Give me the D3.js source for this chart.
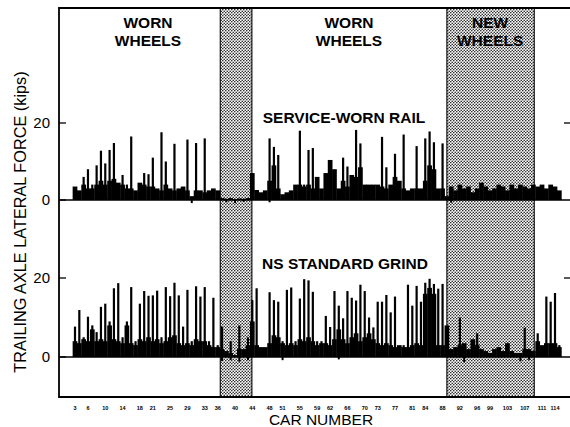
<!DOCTYPE html>
<html>
<head>
<meta charset="utf-8">
<script src="https://cdn.jsdelivr.net/npm/d3@7"></script>
<style>
  body { margin: 0; background: #fff; }
  text { font-family: "Liberation Sans", Arial, sans-serif; }
</style>
</head>
<body>
<div id="chart"></div>
<script>
// car numbers 3..115, one entry per car
const firstCar = 3
const carTicks = [3, 6, 10, 14, 18, 21, 25, 29, 33, 36, 40, 44, 48, 51, 55, 59, 62, 66, 70, 73, 77, 81, 84, 88, 92, 96, 99, 103, 107, 111, 114]

// shaded car ranges
const shadeRanges = [[36.6, 43.9], [89.0, 109.2]]

// service-worn rail: base level and peak per car (kips)
const topBase = [3.5, 2.5, 4, 3, 3, 4, 5, 4, 5, 5.5, 4.5, 4, 3, 3, 2.5, 4.5, 4, 3.5, 3.5, 3, 2.5, 4, 3, 2.5, 3, 3.5, 2.5, 1, 2.5, 2.5, 2, 2.5, 3, 2.5,
  0.5, 0.3, 0.5, 0.2, 0.4, 0.3, 0.5,
  7, 2.6, 2, 2.5, 5, 9, 3, 1.5, 2, 2.5, 4, 4, 3.5, 4, 3, 6, 3, 7, 10.4, 8, 3, 5, 3.5, 6.5, 6, 8.5, 4, 4, 4, 4, 3.5, 3, 4, 6, 5, 3, 2.5, 3, 3, 3, 5, 9, 8, 3, 3,
  1, 3.5, 2.5, 4, 3, 3.5, 2, 3, 4.5, 3.5, 2.5, 3, 4, 3.5, 2.5, 4, 3, 4, 3.5, 3, 4,
  3.5, 4, 3, 4, 3.5, 2.5]
const topPeak = [3.5, 2.5, 6, 8, 4, 9, 12.8, 9.5, 13, 14.8, 4.5, 6.5, 4, 16.5, 2.5, 4.5, 7, 6.7, 11, 3, 17.6, 10, 3, 14.6, 3, 3.5, 15.7, 1, 14.8, 2.5, 16, 2.5, 3, 2.5,
  0.5, 0.3, 0.5, 0.2, 0.4, 0.3, 0.5,
  7, 2.6, 2, 2.5, 16, 13.8, 11.7, 1.5, 2, 2.5, 4, 18, 4, 13, 13.5, 6, 3, 7, 10.4, 8, 3, 11, 8.7, 6.5, 18.2, 14.7, 4, 4, 4, 4, 16.4, 8.5, 4, 12, 5, 17, 2.5, 3, 14, 3, 16, 17.8, 15, 3, 14.7,
  1, 3.5, 2.5, 4, 3, 3.5, 2, 3, 4.5, 3.5, 2.5, 3, 4, 3.5, 2.5, 4, 3, 4, 3.5, 3, 4,
  3.5, 4, 3, 4, 3.5, 2.5]

// NS standard grind
const lowBase = [4, 3.5, 4.5, 4, 7, 4, 4.5, 4, 8, 4.5, 4, 3.5, 8, 3.5, 3, 4.5, 4, 5, 4, 4.5, 3.5, 4, 5, 5.5, 3.5, 3, 3.5, 3, 4.5, 4, 4, 3, 2.5, 2.5,
  2, 1.5, 1, 0.5, 2, 2, 3,
  9, 3, 2.5, 2.5, 3.5, 5.5, 5, 3.5, 3, 3.5, 3, 4.5, 4, 5, 4, 3, 3.5, 3.5, 3, 4.5, 7, 4.5, 3.5, 5, 6, 4, 5, 6, 4.5, 3.5, 3, 3.5, 3, 2.5, 3, 2.5, 2.5, 3, 3.5, 3, 16, 17.5, 16, 3, 3,
  8, 2, 2.5, 3, 3.5, 2, 4.5, 3, 2, 1.5, 1, 2, 2.5, 1.5, 3.5, 1.5, 1, 1, 2, 2, 1.5,
  4, 3, 3.5, 3.5, 3.5, 2.5]
const lowPeak = [7.7, 11.9, 5, 10.2, 8, 6.3, 12.7, 13.5, 9, 17.4, 18.7, 5, 9, 17.7, 4, 13.5, 16.7, 15.5, 15.6, 16.8, 5, 17.7, 15.4, 18.8, 15.6, 7.7, 17, 4, 17.9, 15.3, 17.7, 4, 15, 3,
  7.7, 1.5, 4, 0.5, 8, 2, 5,
  14.4, 17.4, 2.5, 2.5, 16.4, 14.4, 14, 4, 17, 17.6, 4, 14.8, 19.7, 19.4, 16.5, 4, 4, 10.4, 7.6, 16.7, 13, 9.8, 16.7, 15, 14.3, 18.3, 16.7, 10, 7.5, 14, 14, 15.7, 11.3, 15.3, 3, 3, 18.3, 13, 18, 14, 18.8, 19.8, 18.5, 17.3, 18.5,
  8, 2, 2.5, 10, 3.5, 2, 4.5, 6, 2, 1.5, 1, 2, 2.5, 1.5, 3.5, 1.5, 1, 1, 7.4, 2, 1.5,
  6, 3, 15.3, 14, 16.2, 3]

// small negative excursions [car, kips]
const topDips = [[30, -0.8], [38, -0.6], [40, -0.8], [42, -0.5], [48, -0.6], [90, -0.7]]
const lowDips = [[37, -1], [39, -0.8], [41, -1.2], [43, -0.8], [51, -0.8], [64, -0.6], [93, -1.3], [106, -1.1], [108, -0.7]]

const yTicks = [0, 20]

const W = 570, H = 427
const frame = {left: 59, right: 570, top: 8, bottom: 397}

const svg = d3.select('#chart').append('svg')
  .attr('width', W)
  .attr('height', H)

const defs = svg.append('defs')
const pat = defs.append('pattern')
  .attr('id', 'dots')
  .attr('width', 3).attr('height', 3)
  .attr('patternUnits', 'userSpaceOnUse')
pat.append('rect').attr('width', 3).attr('height', 3).attr('fill', '#fff')
pat.append('circle').attr('cx', 0.75).attr('cy', 0.75).attr('r', 0.8).attr('fill', '#222')
pat.append('circle').attr('cx', 2.25).attr('cy', 2.25).attr('r', 0.8).attr('fill', '#222')

const x = d3.scaleLinear().domain([3, 114]).range([75, 555])
const yTop = d3.scaleLinear().domain([0, 20]).range([200, 123])
const yLow = d3.scaleLinear().domain([0, 20]).range([357, 278])

// shaded bands
svg.selectAll('.shade').data(shadeRanges).join('rect')
  .attr('class', 'shade')
  .attr('x', d => x(d[0]))
  .attr('y', frame.top)
  .attr('width', d => x(d[1]) - x(d[0]))
  .attr('height', frame.bottom - frame.top)
  .attr('fill', 'url(#dots)')
  .attr('stroke', '#111')
  .attr('stroke-width', 1.2)

const step = x(4) - x(3)

function drawTrace(base, peak, dips, y) {
  const g = svg.append('g')
  const rows = base.map((b, i) => ({car: firstCar + i, base: b, peak: peak[i]}))
  g.selectAll('.base').data(rows).join('rect')
    .attr('x', d => x(d.car) - step / 2 - 0.2)
    .attr('width', step + 0.4)
    .attr('y', d => y(d.base))
    .attr('height', d => y(0) - y(d.base))
    .attr('fill', '#000')
  g.selectAll('.peak').data(rows.filter(d => d.peak > d.base)).join('rect')
    .attr('x', d => x(d.car) - 1.1)
    .attr('width', 2.2)
    .attr('y', d => y(d.peak))
    .attr('height', d => y(0) - y(d.peak))
    .attr('fill', '#000')
  g.selectAll('.dip').data(dips).join('rect')
    .attr('x', d => x(d[0]) - 1)
    .attr('width', 2)
    .attr('y', y(0))
    .attr('height', d => y(d[1]) - y(0))
    .attr('fill', '#000')
}

drawTrace(topBase, topPeak, topDips, yTop)
drawTrace(lowBase, lowPeak, lowDips, yLow)

// zero lines
svg.append('line').attr('x1', frame.left).attr('x2', frame.right)
  .attr('y1', yTop(0)).attr('y2', yTop(0)).attr('stroke', '#000').attr('stroke-width', 1.5)
svg.append('line').attr('x1', frame.left).attr('x2', frame.right)
  .attr('y1', yLow(0)).attr('y2', yLow(0)).attr('stroke', '#000').attr('stroke-width', 1.3)

// frame (left, top, bottom)
svg.append('path')
  .attr('d', `M${frame.right},${frame.top}H${frame.left}V${frame.bottom}H${frame.right}`)
  .attr('fill', 'none').attr('stroke', '#000').attr('stroke-width', 1.8)

// y ticks, both panels
;[yTop, yLow].forEach(y => {
  const g = svg.append('g')
  g.selectAll('.tl').data(yTicks).join('line')
    .attr('x1', frame.left).attr('x2', frame.left + 7)
    .attr('y1', d => y(d)).attr('y2', d => y(d))
    .attr('stroke', '#000').attr('stroke-width', 1.3)
  g.selectAll('.tr').data(yTicks.filter(d => d > 0)).join('line')
    .attr('x1', frame.right - 6).attr('x2', frame.right)
    .attr('y1', d => y(d)).attr('y2', d => y(d))
    .attr('stroke', '#000').attr('stroke-width', 1.3)
  g.selectAll('text').data(yTicks).join('text')
    .attr('x', 50).attr('y', d => y(d) + 5)
    .attr('text-anchor', 'end')
    .attr('font-size', 15)
    .text(d => d)
})

// car number tick labels
svg.append('g').selectAll('text').data(carTicks).join('text')
  .attr('x', d => x(d))
  .attr('y', 410)
  .attr('text-anchor', 'middle')
  .attr('font-size', 5.5)
  .attr('font-weight', 'bold')
  .text(d => d)

// annotations
function label(lines, cx, y0, size) {
  const t = svg.append('text')
    .attr('text-anchor', 'middle')
    .attr('font-size', size)
    .attr('font-weight', 'bold')
  lines.forEach((s, i) => t.append('tspan').attr('x', cx).attr('y', y0 + i * 18).text(s))
}
label(['WORN', 'WHEELS'], 148, 28, 15.5)
label(['WORN', 'WHEELS'], 349, 28, 15.5)
label(['NEW', 'WHEELS'], x(99), 28, 15.5)
label(['SERVICE-WORN RAIL'], 344, 123, 15.5)
label(['NS STANDARD GRIND'], 345, 269, 15.5)

svg.append('text')
  .attr('transform', 'translate(26,222) rotate(-90)')
  .attr('text-anchor', 'middle')
  .attr('font-size', 16.3)
  .text('TRAILING AXLE LATERAL FORCE (kips)')

svg.append('text')
  .attr('x', 321).attr('y', 425)
  .attr('text-anchor', 'middle')
  .attr('font-size', 15.5)
  .text('CAR NUMBER')
</script>
</body>
</html>
